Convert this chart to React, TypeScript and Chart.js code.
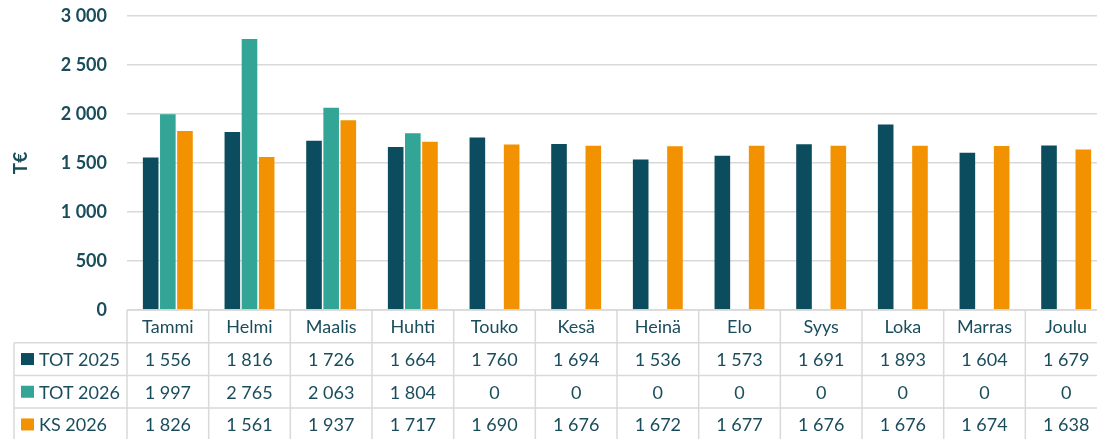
import React, { useEffect, useRef } from "react";
import { Chart, registerables } from "chart.js";

Chart.register(...registerables);

const categories = ["Tammi", "Helmi", "Maalis", "Huhti", "Touko", "Kesä", "Heinä", "Elo", "Syys", "Loka", "Marras", "Joulu"];
const tot2025 = [1556, 1816, 1726, 1664, 1760, 1694, 1536, 1573, 1691, 1893, 1604, 1679];
const tot2026 = [1997, 2765, 2063, 1804, 0, 0, 0, 0, 0, 0, 0, 0];
const ks2026 = [1826, 1561, 1937, 1717, 1690, 1676, 1672, 1677, 1676, 1676, 1674, 1638];
const seriesNames = ["TOT 2025", "TOT 2026", "KS 2026"];
const seriesColors = ["#0B4C5E", "#33A596", "#F39200"];
const yTitle = "T€";

const TEXT = "#1A4D5C";
const GRID = "#D9D9D9";
const FONT = "Lato, 'Open Sans', sans-serif";

const fmt = (n: number) => String(n).replace(/\B(?=(\d{3})+(?!\d))/g, " ");

const tablePlugin = {
  id: "dataTable",
  afterDraw(chart: any) {
    const ctx = chart.ctx as CanvasRenderingContext2D;
    const area = chart.chartArea;
    const n = categories.length;
    const w = (area.right - area.left) / n;
    const top = area.bottom;
    const rowH = 32.7;
    const bottom = chart.height + 5;
    ctx.save();
    ctx.strokeStyle = GRID;
    ctx.lineWidth = 1.5;
    const tableLeft = 14;
    ctx.beginPath();
    ctx.moveTo(area.left, top);
    ctx.lineTo(chart.width, top);
    for (let r = 1; r <= 3; r++) {
      const y = top + rowH * r;
      ctx.moveTo(tableLeft, y);
      ctx.lineTo(chart.width, y);
    }
    for (let k = 0; k <= n; k++) {
      const x = area.left + w * k;
      ctx.moveTo(x, top);
      ctx.lineTo(x, bottom);
    }
    ctx.moveTo(tableLeft, top + rowH);
    ctx.lineTo(tableLeft, bottom);
    ctx.stroke();

    ctx.fillStyle = TEXT;
    ctx.font = `18px ${FONT}`;
    ctx.textAlign = "center";
    ctx.textBaseline = "middle";
    categories.forEach((c, i) => {
      ctx.fillText(c, area.left + w * (i + 0.5), top + rowH * 0.5 + 1);
    });
    const rows = [tot2025, tot2026, ks2026];
    rows.forEach((vals, r) => {
      const yc = top + rowH * (r + 1.5) + 1;
      vals.forEach((v, i) => {
        ctx.fillStyle = TEXT;
        ctx.textAlign = "center";
        ctx.fillText(fmt(v), area.left + w * (i + 0.5), yc);
      });
      ctx.fillStyle = seriesColors[r];
      ctx.fillRect(21, yc - 7, 13, 12);
      ctx.fillStyle = TEXT;
      ctx.textAlign = "left";
      ctx.fillText(seriesNames[r], 39, yc);
    });

    ctx.save();
    ctx.translate(21, (area.top + area.bottom) / 2);
    ctx.rotate(-Math.PI / 2);
    ctx.font = `bold 19px ${FONT}`;
    ctx.textAlign = "center";
    ctx.textBaseline = "middle";
    ctx.fillStyle = TEXT;
    ctx.fillText(yTitle, 0, 0);
    ctx.restore();
    ctx.restore();
  },
};

export default function App() {
  const ref = useRef<HTMLCanvasElement | null>(null);
  useEffect(() => {
    if (!ref.current) return;
    const chart = new Chart(ref.current, {
      type: "bar",
      data: {
        labels: categories,
        datasets: [tot2025, tot2026, ks2026].map((d, i) => ({
          label: seriesNames[i],
          data: d,
          backgroundColor: seriesColors[i],
          borderWidth: 0,
          categoryPercentage: 0.63,
          barPercentage: 0.91,
        })),
      },
      options: {
        animation: false,
        responsive: false,
        devicePixelRatio: 1,
        layout: { padding: { top: 16, bottom: 129, left: 0, right: 0 } },
        plugins: { legend: { display: false }, tooltip: { enabled: false }, title: { display: false } },
        scales: {
          x: { display: false },
          y: {
            min: 0,
            max: 3000,
            border: { display: false },
            grid: { color: GRID, lineWidth: 1.5, drawTicks: false },
            ticks: {
              stepSize: 500,
              padding: 20,
              color: TEXT,
              font: { family: FONT, size: 18, weight: "bold" },
              callback: (v: any) => fmt(Number(v)),
            },
            afterFit: (s: any) => {
              s.width = 127;
              s.paddingTop = 0;
              s.paddingBottom = 0;
            },
          },
        },
      },
      plugins: [tablePlugin],
    } as any);
    return () => chart.destroy();
  }, []);
  return (
    <div style={{ position: "fixed", left: 0, top: 0, width: 1097, height: 439, overflow: "hidden", background: "#fff" }}>
      <canvas ref={ref} width={1107} height={439} style={{ width: 1107, height: 439, display: "block" }} />
    </div>
  );
}
